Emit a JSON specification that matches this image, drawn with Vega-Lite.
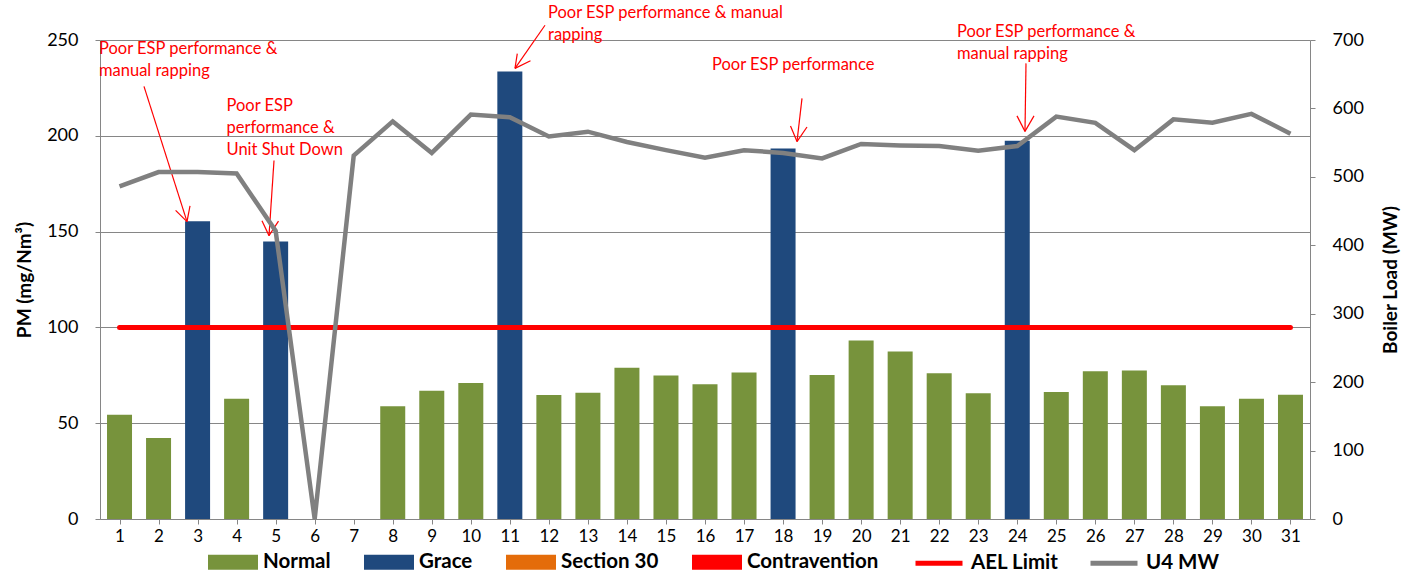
{
  "$schema": "https://vega.github.io/schema/vega-lite/v6.json",
  "width": 1210,
  "height": 479,
  "autosize": {"type": "none"},
  "padding": {"left": 100, "top": 40, "right": 110, "bottom": 56},
  "background": "white",
  "config": {
    "view": {"stroke": null},
    "font": "Lato",
    "axis": {
      "labelFont": "Lato",
      "labelFontSize": 18,
      "labelColor": "black",
      "titleFont": "Lato",
      "titleFontSize": 19,
      "titleFontWeight": "bold",
      "titleColor": "black",
      "domainColor": "#868686",
      "tickColor": "#868686",
      "gridColor": "#868686",
      "gridOpacity": 1,
      "tickSize": 5
    }
  },
  "datasets": {
    "daily": [
      {"day": 1, "pm": 54.4, "mw": 486, "cat": "Normal"},
      {"day": 2, "pm": 42.3, "mw": 507, "cat": "Normal"},
      {"day": 3, "pm": 155.4, "mw": 507, "cat": "Grace"},
      {"day": 4, "pm": 62.8, "mw": 505, "cat": "Normal"},
      {"day": 5, "pm": 144.8, "mw": 421, "cat": "Grace"},
      {"day": 6, "pm": null, "mw": 0, "cat": "Normal"},
      {"day": 7, "pm": null, "mw": 531, "cat": "Normal"},
      {"day": 8, "pm": 58.8, "mw": 581, "cat": "Normal"},
      {"day": 9, "pm": 67.0, "mw": 535, "cat": "Normal"},
      {"day": 10, "pm": 71.0, "mw": 591, "cat": "Normal"},
      {"day": 11, "pm": 233.5, "mw": 587, "cat": "Grace"},
      {"day": 12, "pm": 64.7, "mw": 559, "cat": "Normal"},
      {"day": 13, "pm": 65.9, "mw": 566, "cat": "Normal"},
      {"day": 14, "pm": 78.9, "mw": 551, "cat": "Normal"},
      {"day": 15, "pm": 74.9, "mw": 539, "cat": "Normal"},
      {"day": 16, "pm": 70.3, "mw": 528, "cat": "Normal"},
      {"day": 17, "pm": 76.4, "mw": 539, "cat": "Normal"},
      {"day": 18, "pm": 193.4, "mw": 535, "cat": "Grace"},
      {"day": 19, "pm": 75.2, "mw": 527, "cat": "Normal"},
      {"day": 20, "pm": 93.2, "mw": 548, "cat": "Normal"},
      {"day": 21, "pm": 87.4, "mw": 546, "cat": "Normal"},
      {"day": 22, "pm": 76.1, "mw": 545, "cat": "Normal"},
      {"day": 23, "pm": 65.6, "mw": 538, "cat": "Normal"},
      {"day": 24, "pm": 197.4, "mw": 545, "cat": "Grace"},
      {"day": 25, "pm": 66.3, "mw": 588, "cat": "Normal"},
      {"day": 26, "pm": 77.1, "mw": 579, "cat": "Normal"},
      {"day": 27, "pm": 77.5, "mw": 539, "cat": "Normal"},
      {"day": 28, "pm": 69.8, "mw": 584, "cat": "Normal"},
      {"day": 29, "pm": 58.8, "mw": 579, "cat": "Normal"},
      {"day": 30, "pm": 62.8, "mw": 592, "cat": "Normal"},
      {"day": 31, "pm": 64.9, "mw": 563, "cat": "Normal"}
    ],
    "ael": [{"start": 1, "end": 31, "limit": 100, "series": "AEL Limit"}],
    "arrows": [
      {"x1": 1.627, "y1": 225.8, "x2": 2.729, "y2": 155.2},
      {"x1": 2.437, "y1": 161.1, "x2": 2.729, "y2": 155.2},
      {"x1": 2.806, "y1": 163.4, "x2": 2.729, "y2": 155.2},
      {"x1": 4.958, "y1": 187.1, "x2": 4.830, "y2": 147.9},
      {"x1": 4.650, "y1": 155.7, "x2": 4.830, "y2": 147.9},
      {"x1": 5.073, "y1": 155.5, "x2": 4.830, "y2": 147.9},
      {"x1": 11.901, "y1": 257.7, "x2": 11.132, "y2": 235.2},
      {"x1": 11.529, "y1": 239.2, "x2": 11.132, "y2": 235.2},
      {"x1": 11.191, "y1": 242.9, "x2": 11.132, "y2": 235.2},
      {"x1": 18.485, "y1": 219.5, "x2": 18.357, "y2": 197.0},
      {"x1": 18.191, "y1": 205.1, "x2": 18.357, "y2": 197.0},
      {"x1": 18.613, "y1": 204.6, "x2": 18.357, "y2": 197.0},
      {"x1": 24.224, "y1": 237.8, "x2": 24.198, "y2": 202.3},
      {"x1": 23.993, "y1": 210.4, "x2": 24.198, "y2": 202.3},
      {"x1": 24.429, "y1": 210.4, "x2": 24.198, "y2": 202.3}
    ],
    "notes": [
      {"x": 0.474, "y": 242.8, "label": "Poor ESP performance &\nmanual rapping"},
      {"x": 3.741, "y": 212.7, "label": "Poor ESP\nperformance &\nUnit Shut Down"},
      {"x": 11.978, "y": 261.3, "label": "Poor ESP performance & manual\nrapping"},
      {"x": 16.18, "y": 234.2, "label": "Poor ESP performance"},
      {"x": 22.457, "y": 251.8, "label": "Poor ESP performance &\nmanual rapping"}
    ]
  },
  "layer": [
    {
      "layer": [
        {
          "data": {"name": "daily"},
          "mark": {"type": "bar", "width": 25, "orient": "vertical"},
          "encoding": {
            "x": {
              "field": "day", "type": "quantitative",
              "scale": {"domain": [0.5, 31.5], "nice": false, "zero": false, "padding": 0},
              "axis": {"title": null, "grid": false, "values": [1,2,3,4,5,6,7,8,9,10,11,12,13,14,15,16,17,18,19,20,21,22,23,24,25,26,27,28,29,30,31], "format": "d", "labelFontSize": 17, "labelPadding": 4, "labelFlush": false}
            },
            "y": {
              "field": "pm", "type": "quantitative", "stack": null,
              "scale": {"domain": [0, 250], "nice": false},
              "axis": {"title": "PM (mg/Nm³)", "values": [0, 50, 100, 150, 200, 250], "grid": true, "labelPadding": 17, "titlePadding": 12}
            },
            "color": {
              "field": "cat", "type": "nominal",
              "scale": {"domain": ["Normal", "Grace", "Section 30", "Contravention"], "range": ["#77933C", "#1F497D", "#E46C0A", "#FF0000"]},
              "legend": {
                "orient": "none", "legendX": 108, "legendY": 497, "direction": "horizontal", "title": null,
                "symbolType": "M-1,-0.3H1V0.3H-1Z", "symbolSize": 2500, "symbolStrokeWidth": 0,
                "labelOffset": 5, "columnPadding": 33, "padding": 0,
                "labelFont": "Lato", "labelFontSize": 20.5, "labelFontWeight": "bold", "labelColor": "black"
              }
            }
          }
        },
        {
          "data": {"name": "ael"},
          "mark": {"type": "rule", "strokeWidth": 5, "strokeCap": "round"},
          "encoding": {
            "x": {"field": "start", "type": "quantitative"},
            "x2": {"field": "end"},
            "y": {"field": "limit", "type": "quantitative"},
            "stroke": {
              "field": "series", "type": "nominal",
              "scale": {"domain": ["AEL Limit", "U4 MW"], "range": ["#FF0000", "#808080"]},
              "legend": {
                "orient": "none", "legendX": 813, "legendY": 497, "direction": "horizontal", "title": null,
                "symbolType": "stroke", "symbolSize": 2209, "symbolStrokeWidth": 5,
                "labelOffset": 6, "columnPadding": 21, "padding": 0,
                "labelFont": "Lato", "labelFontSize": 20.5, "labelFontWeight": "bold", "labelColor": "black"
              }
            }
          }
        },
        {
          "data": {"name": "arrows"},
          "mark": {"type": "rule", "color": "#FF0000", "strokeWidth": 1.2},
          "encoding": {
            "x": {"field": "x1", "type": "quantitative"},
            "y": {"field": "y1", "type": "quantitative"},
            "x2": {"field": "x2"},
            "y2": {"field": "y2"}
          }
        },
        {
          "data": {"name": "notes"},
          "mark": {"type": "text", "align": "left", "baseline": "alphabetic", "lineBreak": "\n", "lineHeight": 22, "font": "Lato", "fontSize": 16.5, "color": "#FF0000"},
          "encoding": {
            "x": {"field": "x", "type": "quantitative"},
            "y": {"field": "y", "type": "quantitative"},
            "text": {"field": "label"}
          }
        }
      ]
    },
    {
      "data": {"name": "daily"},
      "mark": {"type": "line", "strokeWidth": 4.5},
      "encoding": {
        "x": {"field": "day", "type": "quantitative"},
        "y": {
          "field": "mw", "type": "quantitative",
          "scale": {"domain": [0, 700], "nice": false},
          "axis": {"orient": "right", "title": "Boiler Load (MW)", "values": [0, 100, 200, 300, 400, 500, 600, 700], "grid": false, "labelPadding": 17, "titleAngle": 270, "titleX": 80, "titleY": 239.5, "titleAlign": "center", "titleBaseline": "middle"}
        },
        "stroke": {"datum": "U4 MW", "type": "nominal"}
      }
    }
  ],
  "resolve": {"scale": {"y": "independent"}}
}
